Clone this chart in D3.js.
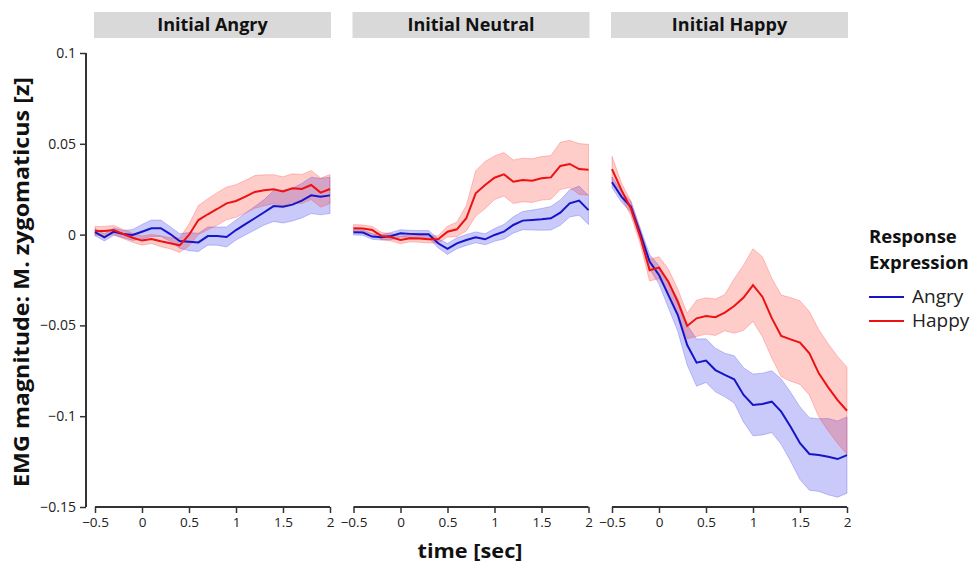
<!DOCTYPE html>
<html><head><meta charset="utf-8">
<script src="https://cdn.jsdelivr.net/npm/d3@7"></script>
<style>body{margin:0;background:#fff}svg{display:block}</style>
</head><body>
<svg id="chart" width="975" height="571"></svg>
<script>
const time = [-0.5,-0.4,-0.3,-0.2,-0.1,0,0.1,0.2,0.3,0.4,0.5,0.6,0.7,0.8,0.9,1.0,1.1,1.2,1.3,1.4,1.5,1.6,1.7,1.8,1.9,2.0];
const panels = ["Initial Angry","Initial Neutral","Initial Happy"];
const responses = ["Angry","Happy"];
const yTicks = [0.1,0.05,0,-0.05,-0.1,-0.15];
const xTicks = [-0.5,0,0.5,1,1.5,2];

// Initial Angry
const angryPanelAngry = [0.0013,-0.0015,0.0016,0.0003,-0.0002,0.0016,0.0035,0.0035,0.0003,-0.0035,-0.0039,-0.0043,-0.0008,-0.0008,-0.0013,0.0025,0.0058,0.009,0.0123,0.0157,0.0154,0.0165,0.0187,0.0216,0.0209,0.0216];
const angryPanelAngrySE = [0.002,0.002,0.002,0.002,0.003,0.004,0.0045,0.0045,0.004,0.004,0.005,0.005,0.005,0.005,0.0055,0.0055,0.006,0.0065,0.007,0.0085,0.009,0.009,0.0095,0.01,0.01,0.01];
const angryPanelHappy = [0.002,0.002,0.0025,0.0003,-0.0017,-0.0033,-0.0024,-0.0037,-0.0048,-0.0059,-0.0002,0.008,0.0112,0.0141,0.0172,0.0185,0.0209,0.0235,0.0244,0.025,0.0238,0.0255,0.0251,0.0273,0.0231,0.0251];
const angryPanelHappySE = [0.0025,0.0025,0.0025,0.0025,0.0025,0.0025,0.0025,0.003,0.003,0.004,0.006,0.008,0.0085,0.009,0.009,0.009,0.009,0.009,0.0085,0.008,0.008,0.008,0.008,0.008,0.008,0.008];

// Initial Neutral
const neutralPanelAngry = [0.0013,0.0011,-0.0011,-0.0015,-0.0008,0.0007,0.0004,0.0002,0.0002,-0.0048,-0.0079,-0.0048,-0.003,-0.0015,-0.0026,-0.0002,0.0016,0.0053,0.0077,0.008,0.0084,0.009,0.0121,0.0172,0.0187,0.0135];
const neutralPanelAngrySE = [0.0015,0.0015,0.0015,0.0015,0.002,0.002,0.002,0.002,0.002,0.0025,0.003,0.003,0.003,0.003,0.003,0.0035,0.004,0.0045,0.005,0.0055,0.006,0.0065,0.007,0.0075,0.008,0.008];
const neutralPanelHappy = [0.0035,0.0033,0.0025,-0.0008,-0.0015,-0.003,-0.002,-0.0022,-0.0026,-0.0026,0.0016,0.0029,0.009,0.0227,0.0273,0.0313,0.0332,0.0291,0.0301,0.0297,0.031,0.0315,0.0378,0.0389,0.0361,0.0357];
const neutralPanelHappySE = [0.002,0.002,0.002,0.002,0.002,0.002,0.002,0.002,0.002,0.002,0.003,0.004,0.007,0.0125,0.013,0.012,0.012,0.012,0.012,0.012,0.012,0.012,0.013,0.013,0.014,0.014];

// Initial Happy
const happyPanelAngry = [0.0288,0.0209,0.0154,0.0007,-0.0149,-0.0222,-0.0333,-0.0443,-0.0608,-0.0705,-0.0694,-0.0746,-0.0773,-0.0797,-0.0883,-0.0938,-0.0933,-0.092,-0.0975,-0.1058,-0.1149,-0.1208,-0.1214,-0.1223,-0.1236,-0.1214];
const happyPanelAngrySE = [0.003,0.003,0.003,0.003,0.004,0.005,0.007,0.009,0.011,0.013,0.012,0.012,0.012,0.013,0.015,0.017,0.017,0.017,0.018,0.019,0.02,0.02,0.02,0.021,0.021,0.021];
const happyPanelHappy = [0.0361,0.0246,0.0145,-0.0011,-0.0196,-0.0182,-0.026,-0.037,-0.0503,-0.0461,-0.0448,-0.0455,-0.043,-0.0393,-0.0347,-0.0278,-0.0342,-0.046,-0.0558,-0.0577,-0.0595,-0.0654,-0.0764,-0.0841,-0.0911,-0.097];
const happyPanelHappySE = [0.007,0.004,0.004,0.004,0.006,0.006,0.007,0.007,0.007,0.01,0.01,0.01,0.01,0.015,0.018,0.02,0.022,0.022,0.0225,0.023,0.023,0.023,0.024,0.024,0.024,0.024];

const series = [
  [[angryPanelAngry, angryPanelAngrySE],[angryPanelHappy, angryPanelHappySE]],
  [[neutralPanelAngry, neutralPanelAngrySE],[neutralPanelHappy, neutralPanelHappySE]],
  [[happyPanelAngry, happyPanelAngrySE],[happyPanelHappy, happyPanelHappySE]]
];

const lineColor = {Angry:"#1515c8", Happy:"#ee1111"};
const fillColor = {Angry:"rgba(40,40,235,0.25)", Happy:"rgba(250,40,30,0.24)"};
const edgeColor = {Angry:"rgba(60,60,240,0.35)", Happy:"rgba(250,60,50,0.35)"};

const svg = d3.select("#chart");
const font = "'Open Sans', Lato, sans-serif";
const panelLeft = [95, 353.5, 612];
const panelW = 235;
const y = d3.scaleLinear().domain([-0.15,0.1]).range([507,53]);
const axisColor = "#333";

panels.forEach((name, p) => {
  const x = d3.scaleLinear().domain([-0.5,2]).range([panelLeft[p], panelLeft[p]+panelW]);
  // strip
  svg.append("rect").attr("x", panelLeft[p]-1).attr("y", 12).attr("width", panelW+2).attr("height", 26).attr("fill", "#d9d9d9");
  svg.append("text").attr("x", panelLeft[p]+panelW/2).attr("y", 31).attr("text-anchor","middle")
    .attr("font-family", font).attr("font-weight","bold").attr("font-size", 18).attr("fill","#111").text(name);

  const g = svg.append("g");
  responses.forEach((r, k) => {
    const [m, se] = series[p][k];
    const data = time.map((t,i) => ({t, m:m[i], lo:m[i]-se[i], hi:m[i]+se[i]}));
    g.append("path").datum(data)
      .attr("d", d3.area().x(d=>x(d.t)).y0(d=>y(d.lo)).y1(d=>y(d.hi)))
      .attr("fill", fillColor[r]).attr("stroke", edgeColor[r]).attr("stroke-width", 0.8);
  });
  responses.forEach((r, k) => {
    const [m] = series[p][k];
    const data = time.map((t,i) => ({t, m:m[i]}));
    g.append("path").datum(data)
      .attr("d", d3.line().x(d=>x(d.t)).y(d=>y(d.m)))
      .attr("fill","none").attr("stroke", lineColor[r]).attr("stroke-width", 2);
  });

  // x axis
  const xa = svg.append("g").attr("transform","translate(0,507)")
    .call(d3.axisBottom(x).tickValues(xTicks).tickSize(6).tickPadding(4).tickFormat(d3.format("")));
  xa.select(".domain").attr("stroke", axisColor).attr("stroke-width", 2).attr("d", `M${panelLeft[p]},0H${panelLeft[p]+panelW}`);
  xa.selectAll(".tick line").attr("stroke", axisColor).attr("stroke-width", 1.5);
  xa.selectAll(".tick text").attr("font-family", font).attr("font-size", 13.5).attr("fill","#222");
});

// y axis
const ya = svg.append("g").attr("transform","translate(86,0)")
  .call(d3.axisLeft(y).tickValues(yTicks).tickSize(6).tickPadding(4).tickFormat(d3.format("")));
ya.select(".domain").attr("stroke", axisColor).attr("stroke-width", 2).attr("d", "M0,53V507");
ya.selectAll(".tick line").attr("stroke", axisColor).attr("stroke-width", 1.5);
ya.selectAll(".tick text").attr("font-family", font).attr("font-size", 14).attr("fill","#222");

// axis titles
svg.append("text").attr("x", 470).attr("y", 558).attr("text-anchor","middle")
  .attr("font-family", font).attr("font-weight","bold").attr("font-size", 20)
  .attr("textLength", 105).attr("lengthAdjust","spacingAndGlyphs").attr("fill","#111").text("time [sec]");
svg.append("text").attr("transform","translate(29,282) rotate(-90)").attr("text-anchor","middle")
  .attr("font-family", font).attr("font-weight","bold").attr("font-size", 21)
  .attr("textLength", 410).attr("lengthAdjust","spacingAndGlyphs").attr("fill","#111").text("EMG magnitude: M. zygomaticus [z]");

// legend
const lg = svg.append("g").attr("transform","translate(869,0)");
lg.append("text").attr("x",0).attr("y",243).attr("font-family", font).attr("font-weight","bold").attr("font-size",18.5).attr("fill","#111").text("Response");
lg.append("text").attr("x",0).attr("y",269).attr("font-family", font).attr("font-weight","bold").attr("font-size",18.5).attr("fill","#111").text("Expression");
responses.forEach((r,i) => {
  const yy = 297 + i*24;
  lg.append("line").attr("x1",0).attr("x2",35).attr("y1",yy).attr("y2",yy).attr("stroke", lineColor[r]).attr("stroke-width",2);
  lg.append("text").attr("x",43).attr("y",yy+6).attr("font-family", font).attr("font-size",19).attr("fill","#222").text(r);
});
</script>
</body></html>
